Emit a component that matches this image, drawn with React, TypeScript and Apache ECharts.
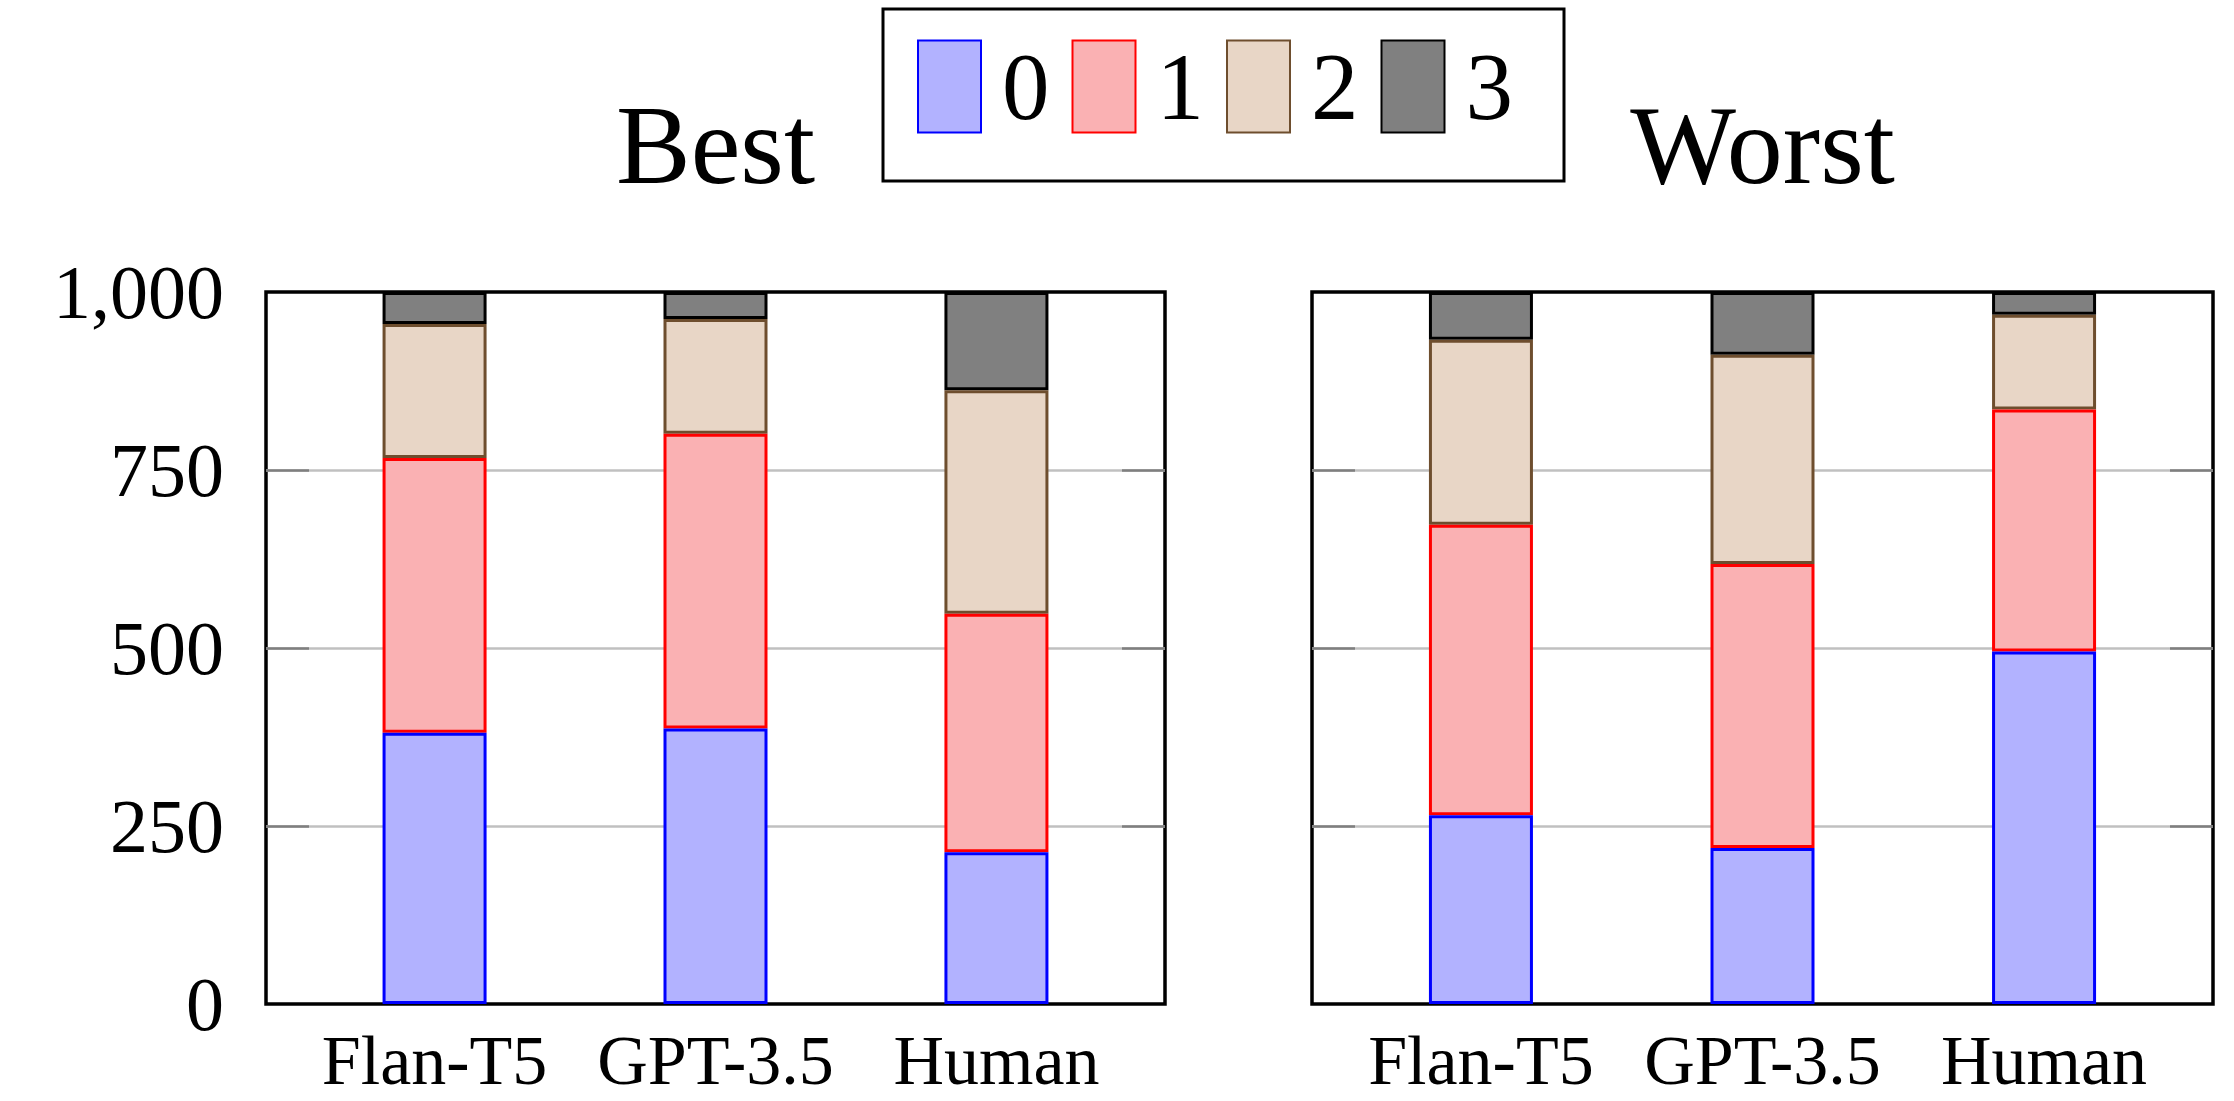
import React, { useEffect, useRef } from "react";
import * as echarts from "echarts";

const categories = ["Flan-T5", "GPT-3.5", "Human"];
const levels = ["0", "1", "2", "3"];
const panelTitles = ["Best", "Worst"];
const yTicks = [0, 250, 500, 750, 1000];

// Best panel, counts per rating level
const best0 = [381, 387, 213];
const best1 = [386, 414, 335];
const best2 = [188, 161, 314];
const best3 = [45, 38, 138];
// Worst panel, counts per rating level
const worst0 = [265, 219, 495];
const worst1 = [408, 399, 340];
const worst2 = [260, 294, 133];
const worst3 = [67, 88, 32];

const fills = ["#b2b2ff", "#fab1b3", "#e8d6c6", "#808080"];
const borders = ["#0000ff", "#ff0000", "#6e4e2e", "#000000"];

const FONT = "Liberation Serif";

export default function App() {
  const ref = useRef<HTMLDivElement>(null);

  useEffect(() => {
    if (!ref.current) return;
    const chart = echarts.init(ref.current, null, { renderer: "svg" });

    const panels = [
      [best0, best1, best2, best3],
      [worst0, worst1, worst2, worst3],
    ];

    // outer frames of the two panels
    const frames = [
      { left: 266, top: 292, width: 899, height: 712 },
      { left: 1312, top: 292, width: 901, height: 712 },
    ];
    // x range of each frame spans 3.2 category units (0.6 margin on both sides)
    const barGrids = frames.map((f) => {
      const unit = f.width / 3.2;
      return {
        left: f.left + 0.1 * unit,
        top: f.top,
        width: 3 * unit,
        height: f.height,
        show: false,
        outerBoundsMode: "none",
        containLabel: false,
      };
    });

    const grids = [
      ...frames.map((f) => ({
        ...f,
        show: true,
        borderColor: "#000",
        borderWidth: 3.5,
        backgroundColor: "transparent",
        outerBoundsMode: "none",
        containLabel: false,
      })),
      ...barGrids,
    ];

    const xAxes: any[] = [
      ...frames.map((_, gi) => ({
        type: "category",
        gridIndex: gi,
        data: [""],
        show: false,
      })),
      ...barGrids.map((_, gi) => ({
        type: "category",
        gridIndex: 2 + gi,
        data: categories,
        axisLine: { show: false },
        axisTick: { show: false },
        splitLine: { show: false },
        axisLabel: {
          interval: 0,
          hideOverlap: false,
          fontFamily: FONT,
          fontSize: 70,
          lineHeight: 56,
          color: "#000",
          margin: 28,
        },
      })),
    ];

    const yAxes: any[] = [];
    frames.forEach((_, gi) => {
      ["left", "right"].forEach((pos) => {
        yAxes.push({
          type: "value",
          gridIndex: gi,
          position: pos,
          min: yTicks[0],
          max: yTicks[yTicks.length - 1],
          interval: 250,
          axisLine: { show: false, onZero: false },
          axisTick: {
            show: true,
            inside: true,
            length: 43,
            customValues: [250, 500, 750],
            lineStyle: { color: "#7f7f7f", width: 2.5 },
          },
          axisLabel: {
            show: gi === 0 && pos === "left",
            fontFamily: FONT,
            fontSize: 76,
            color: "#000",
            margin: 42,
            formatter: (v: number) => v.toLocaleString("en-US"),
          },
          splitLine: {
            show: pos === "left",
            lineStyle: { color: "#c0c0c0", width: 2.5 },
          },
        });
      });
    });
    barGrids.forEach((_, gi) => {
      yAxes.push({
        type: "value",
        gridIndex: 2 + gi,
        min: yTicks[0],
        max: yTicks[yTicks.length - 1],
        show: false,
        splitLine: { show: false },
      });
    });

    const series: any[] = [];
    panels.forEach((vals, gi) => {
      vals.forEach((arr, li) => {
        series.push({
          type: "bar",
          name: levels[li],
          xAxisIndex: 2 + gi,
          yAxisIndex: 4 + gi,
          stack: "s" + gi,
          barWidth: 104,
          z: 6 - li,
          silent: true,
          itemStyle: {
            color: fills[li],
            borderColor: borders[li],
            borderWidth: 3,
          },
          data: arr,
        });
      });
    });

    chart.setOption({
      animation: false,
      backgroundColor: "#fff",
      title: panelTitles.map((t, i) => ({
        text: t,
        left: frames[i].left + frames[i].width / 2,
        top: 89,
        textAlign: "center",
        padding: 0,
        textStyle: {
          fontFamily: FONT,
          fontSize: 112,
          fontWeight: "normal",
          color: "#000",
        },
      })),
      legend: {
        data: levels,
        left: 917,
        top: 32,
        padding: 0,
        itemWidth: 63,
        itemHeight: 92,
        itemGap: 22,
        icon: "rect",
        selectedMode: false,
        textStyle: {
          fontFamily: FONT,
          fontSize: 95,
          color: "#000",
          lineHeight: 60,
          padding: [49, 0, 0, 16],
        },
      },
      graphic: [
        {
          type: "rect",
          shape: { x: 883, y: 9, width: 681, height: 172 },
          style: { fill: "none", stroke: "#000", lineWidth: 3 },
          z: 0,
        },
      ],
      grid: grids,
      xAxis: xAxes,
      yAxis: yAxes,
      series,
    });

    return () => chart.dispose();
  }, []);

  return (
    <div
      ref={ref}
      style={{
        position: "fixed",
        left: 0,
        top: 0,
        width: 2234,
        height: 1101,
        background: "#fff",
      }}
    />
  );
}
